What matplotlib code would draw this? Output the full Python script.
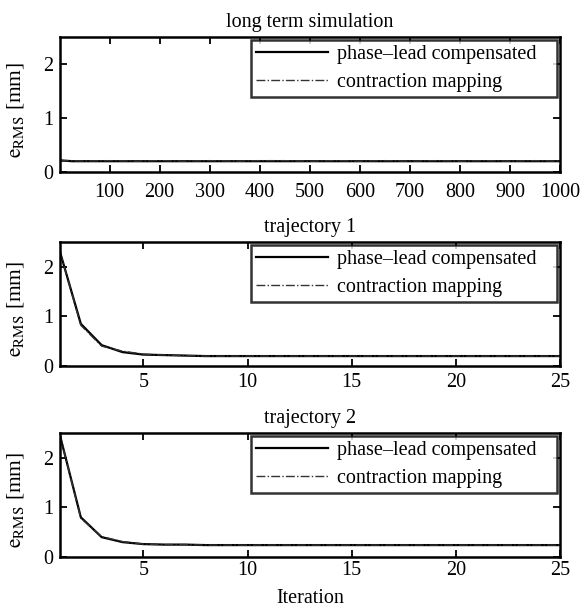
import matplotlib
matplotlib.use("Agg")
import matplotlib.pyplot as plt
from matplotlib.transforms import IdentityTransform

plt.rcParams['font.family'] = ['Liberation Serif', 'DejaVu Serif']
plt.rcParams['mathtext.fontset'] = 'stix'

# long term simulation (iteration samples, RMS error in mm)
long_iter = [1, 5, 10, 25, 50, 100, 150, 200, 250, 300, 350, 400, 450, 500,
             550, 600, 650, 700, 750, 800, 850, 900, 950, 1000]
long_phase = [0.22, 0.21, 0.21, 0.2, 0.2, 0.2, 0.2, 0.2, 0.2, 0.2, 0.2, 0.2, 0.2, 0.2,
              0.2, 0.2, 0.2, 0.2, 0.2, 0.2, 0.2, 0.2, 0.2, 0.2]
long_contr = [0.23, 0.22, 0.21, 0.21, 0.2, 0.21, 0.2, 0.21, 0.2, 0.21, 0.2, 0.21, 0.21, 0.2,
              0.21, 0.2, 0.21, 0.2, 0.21, 0.2, 0.21, 0.2, 0.21, 0.2]

# trajectory 1
traj_iter = list(range(1, 26))
traj1_phase = [2.3, 0.85, 0.42, 0.28, 0.23, 0.22, 0.21, 0.2, 0.2, 0.2, 0.2, 0.2, 0.2,
               0.2, 0.2, 0.2, 0.2, 0.2, 0.2, 0.2, 0.2, 0.2, 0.2, 0.2, 0.2]
traj1_contr = [2.3, 0.82, 0.4, 0.3, 0.24, 0.22, 0.21, 0.2, 0.2, 0.2, 0.2, 0.2, 0.2,
               0.2, 0.2, 0.2, 0.2, 0.2, 0.2, 0.2, 0.2, 0.2, 0.2, 0.2, 0.2]

# trajectory 2
traj2_phase = [2.45, 0.8, 0.4, 0.3, 0.26, 0.25, 0.25, 0.24, 0.24, 0.24, 0.24, 0.24, 0.24,
               0.24, 0.24, 0.24, 0.24, 0.24, 0.24, 0.24, 0.24, 0.24, 0.24, 0.24, 0.24]
traj2_contr = [2.45, 0.78, 0.41, 0.31, 0.26, 0.25, 0.25, 0.24, 0.24, 0.24, 0.24, 0.24, 0.24,
               0.24, 0.24, 0.24, 0.24, 0.24, 0.24, 0.24, 0.24, 0.24, 0.24, 0.24, 0.24]

W, H = 584, 609
FS = 14.5
fig = plt.figure(figsize=(W / 100, H / 100), dpi=100)
px = IdentityTransform()


def make_axes(top, bottom):
    left, right = 60, 560
    return fig.add_axes([left / W, 1 - bottom / H, (right - left) / W, (bottom - top) / H])


panels = [
    (37, 172, long_iter, long_phase, long_contr, 'long term simulation',
     (1, 1000), list(range(100, 1001, 100)), 8),
    (242, 366, traj_iter, traj1_phase, traj1_contr, 'trajectory 1',
     (1, 25), [5, 10, 15, 20, 25], 5),
    (433, 557, traj_iter, traj2_phase, traj2_contr, 'trajectory 2',
     (1, 25), [5, 10, 15, 20, 25], 3),
]

for top, bottom, x, yp, yc, title, xlim, xticks, xpad in panels:
    ax = make_axes(top, bottom)
    ax.plot(x, yp, color='black', linewidth=1.6, label='phase\u2013lead compensated   ')
    ax.plot(x, yc, color='#333333', linewidth=1.0, linestyle='-.',
            label='contraction mapping')
    ax.set_xlim(*xlim)
    ax.set_ylim(0, 2.5)
    ax.set_xticks(xticks)
    ax.set_yticks([0, 1, 2])
    ax.tick_params(direction='in', top=True, right=True, labelsize=FS, length=5,
                   width=1.3)
    ax.tick_params(axis='x', pad=xpad)
    ax.tick_params(axis='y', pad=5)
    for s in ax.spines.values():
        s.set_linewidth(1.8)
    ax.set_title(title, fontsize=FS, pad=7)
    ax.set_ylabel(r'$\mathrm{e}_{\mathrm{RMS}}$ [mm]', fontsize=15.5)
    ax.yaxis.set_label_coords(-0.068, 0.46)
    leg = ax.legend(loc='upper right', fontsize=FS, frameon=True, fancybox=False,
                    edgecolor='black', handlelength=3.6, borderpad=0.25,
                    labelspacing=0.45, handletextpad=0.45, borderaxespad=0.15)
    leg.get_frame().set_linewidth(1.8)

fig.text(310, H - 603, 'Iteration', fontsize=FS, ha='center', va='baseline', transform=px)

fig.savefig('out.png', dpi=100)
